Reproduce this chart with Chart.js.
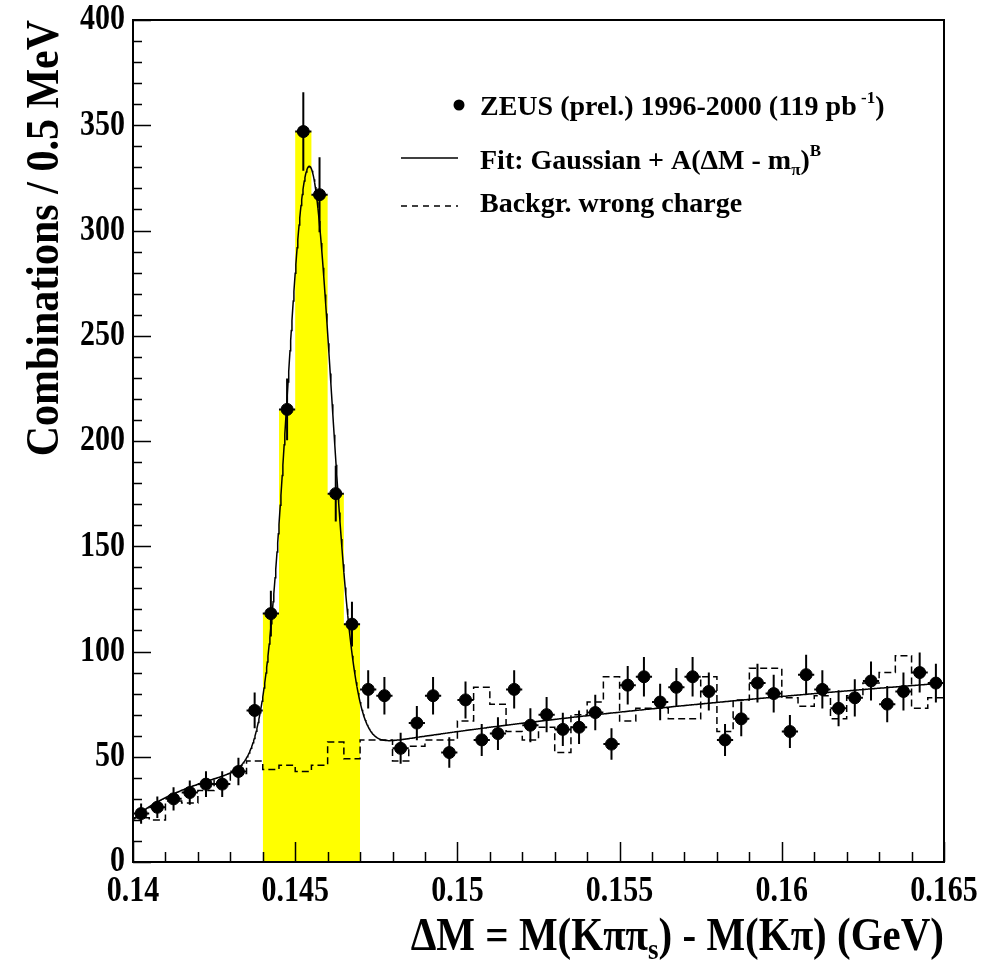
<!DOCTYPE html>
<html>
<head>
<meta charset="utf-8">
<script src="https://cdn.jsdelivr.net/npm/chart.js@4.4.1/dist/chart.umd.min.js"></script>
<style>
  html, body { margin: 0; padding: 0; background: #fff; }
</style>
</head>
<body>
<canvas id="dm" width="999" height="963"></canvas>
<script>
// Delta M histogram, 0.5 MeV bins from 0.140 to 0.165 GeV
var binLow = 0.140;
var binWidth = 0.0005;

// right-charge combinations per bin
var counts = [23, 26, 30, 33, 37, 37, 43, 72, 118, 215,
              347, 317, 175, 113, 82, 79, 54, 66, 79, 52,
              77, 58, 61, 82, 65, 70, 63, 64, 71, 56,
              84, 88, 76, 83, 88, 81, 58, 68, 85, 80,
              62, 89, 82, 73, 78, 86, 75, 81, 90, 85];

// wrong-charge background per bin
var wrongCharge = [21, 20, 29, 28, 34, 39, 42, 48, 44, 46,
                   43, 46, 57, 49, 58, 58, 48, 55, 58, 58,
                   67, 83, 75, 62, 58, 64, 52, 70, 76, 88,
                   67, 73, 73, 68, 68, 88, 62, 77, 92, 92,
                   78, 74, 79, 68, 79, 85, 90, 98, 73, 78];

// signal window (shaded bins)
var signalFirst = 8, signalLast = 13;

// fit: Gaussian + A(dM - m_pi)^B
var mPi = 0.13957;
var gaussAmp = 280, gaussMean = 0.14543, gaussSigma = 0.00069;
var bgA = 313, bgB = 0.355;

var xTickLabels = ['0.14', '0.145', '0.15', '0.155', '0.16', '0.165'];
var yTickLabels = ['0', '50', '100', '150', '200', '250', '300', '350', '400'];

var SERIF = '"Liberation Serif", "Times New Roman", serif';

function binCenter(i) { return binLow + (i + 0.5) * binWidth; }

var pointData = counts.map(function (n, i) { return { x: binCenter(i), y: n }; });

// step histograms: one point per left edge, plus the closing right edge
function stepPoints(vals, first) {
  var pts = vals.map(function (v, i) { return { x: binLow + (first + i) * binWidth, y: v }; });
  pts.push({ x: binLow + (first + vals.length) * binWidth, y: vals[vals.length - 1] });
  return pts;
}
var wrongData = stepPoints(wrongCharge, 0);
var signalData = stepPoints(counts.slice(signalFirst, signalLast + 1), signalFirst);

function fitFn(x) {
  var g = gaussAmp * Math.exp(-0.5 * Math.pow((x - gaussMean) / gaussSigma, 2));
  return g + bgA * Math.pow(x - mPi, bgB);
}
var fitData = [];
for (var k = 0; k <= 1250; k++) {
  var xv = 0.14 + k * 0.00002;
  fitData.push({ x: xv, y: fitFn(xv) });
}

// superscript / subscript text runs
function drawRuns(ctx, x, y, runs) {
  runs.forEach(function (r) {
    ctx.font = 'bold ' + r.size + 'px ' + SERIF;
    ctx.fillText(r.t, x, y + (r.dy || 0));
    x += ctx.measureText(r.t).width;
  });
}
function runsWidth(ctx, runs) {
  var w = 0;
  runs.forEach(function (r) {
    ctx.font = 'bold ' + r.size + 'px ' + SERIF;
    w += ctx.measureText(r.t).width;
  });
  return w;
}

// text drawn a little taller than wide, like the old PAW fonts
function tallText(ctx, s, x, y, sy) {
  ctx.save();
  ctx.translate(x, y);
  ctx.scale(1, sy);
  ctx.fillText(s, 0, 0);
  ctx.restore();
}

var errorBars = {
  id: 'errorBars',
  afterDatasetsDraw: function (chart) {
    var ctx = chart.ctx, xs = chart.scales.x, ys = chart.scales.y;
    ctx.save();
    ctx.strokeStyle = '#000';
    ctx.lineWidth = 2;
    counts.forEach(function (n, i) {
      var e = Math.sqrt(n), c = binCenter(i);
      var px = xs.getPixelForValue(c), py = ys.getPixelForValue(n);
      ctx.beginPath();
      ctx.moveTo(px, ys.getPixelForValue(n + e));
      ctx.lineTo(px, ys.getPixelForValue(n - e));
      ctx.moveTo(xs.getPixelForValue(c - binWidth / 2), py);
      ctx.lineTo(xs.getPixelForValue(c + binWidth / 2), py);
      ctx.stroke();
    });
    ctx.restore();
  }
};

var frameAndText = {
  id: 'frameAndText',
  afterDraw: function (chart) {
    var ctx = chart.ctx, ca = chart.chartArea, xs = chart.scales.x, ys = chart.scales.y;
    ctx.save();
    ctx.strokeStyle = '#000';
    ctx.fillStyle = '#000';

    // inward ticks
    ctx.lineWidth = 1.5;
    ctx.beginPath();
    for (var k = 0; k <= 25; k++) {
      var px = Math.round(xs.getPixelForValue(0.14 + k * 0.001)) + 0.5;
      ctx.moveTo(px, ca.bottom);
      ctx.lineTo(px, ca.bottom - (k % 5 === 0 ? 20 : 10));
    }
    for (var j = 0; j <= 40; j++) {
      var py = Math.round(ys.getPixelForValue(j * 10)) + 0.5;
      ctx.moveTo(ca.left, py);
      ctx.lineTo(ca.left + (j % 5 === 0 ? 18 : 9), py);
    }
    ctx.stroke();

    ctx.lineWidth = 2;
    ctx.strokeRect(ca.left, ca.top, ca.right - ca.left, ca.bottom - ca.top);

    // tick labels
    ctx.font = 'bold 30px ' + SERIF;
    ctx.textAlign = 'center';
    ctx.textBaseline = 'top';
    xTickLabels.forEach(function (s) {
      tallText(ctx, s, xs.getPixelForValue(parseFloat(s)), ca.bottom + 12, 1.2);
    });
    ctx.textAlign = 'right';
    ctx.textBaseline = 'middle';
    yTickLabels.forEach(function (s) {
      tallText(ctx, s, ca.left - 8, ys.getPixelForValue(parseFloat(s)), 1.2);
    });

    // axis titles
    ctx.textAlign = 'left';
    ctx.textBaseline = 'alphabetic';
    var xTitle = [
      { t: '\u0394M = M(K\u03c0\u03c0', size: 41 },
      { t: 's', size: 27, dy: 8 },
      { t: ') - M(K\u03c0) (GeV)', size: 41 }
    ];
    ctx.save();
    ctx.translate(ca.right - runsWidth(ctx, xTitle), 950);
    ctx.scale(1, 1.12);
    drawRuns(ctx, 0, 0, xTitle);
    ctx.restore();

    ctx.save();
    ctx.translate(58, ca.top);
    ctx.rotate(-Math.PI / 2);
    ctx.scale(1, 1.08);
    ctx.textAlign = 'right';
    ctx.font = 'bold 42px ' + SERIF;
    ctx.fillText('Combinations / 0.5 MeV', 0, 0);
    ctx.restore();

    // legend
    ctx.textAlign = 'left';
    ctx.beginPath();
    ctx.arc(459, 105, 5.5, 0, Math.PI * 2);
    ctx.fill();
    drawRuns(ctx, 480, 115, [
      { t: 'ZEUS (prel.) 1996-2000 (119 pb', size: 28 },
      { t: ' -1', size: 17, dy: -12 },
      { t: ')', size: 28 }
    ]);

    ctx.lineWidth = 1.5;
    ctx.beginPath();
    ctx.moveTo(401, 158);
    ctx.lineTo(458, 158);
    ctx.stroke();
    drawRuns(ctx, 480, 169, [
      { t: 'Fit: Gaussian + A(\u0394M - m', size: 28 },
      { t: '\u03c0', size: 17, dy: 6 },
      { t: ')', size: 28 },
      { t: 'B', size: 17, dy: -13 }
    ]);

    ctx.setLineDash([6, 5]);
    ctx.beginPath();
    ctx.moveTo(401, 206);
    ctx.lineTo(458, 206);
    ctx.stroke();
    ctx.setLineDash([]);
    drawRuns(ctx, 480, 212, [{ t: 'Backgr. wrong charge', size: 28 }]);

    ctx.restore();
  }
};

new Chart(document.getElementById('dm'), {
  type: 'scatter',
  data: {
    datasets: [
      {
        label: 'ZEUS (prel.) 1996-2000',
        data: pointData,
        showLine: false,
        pointRadius: 6,
        pointBackgroundColor: '#000',
        pointBorderColor: '#000',
        pointBorderWidth: 1
      },
      {
        label: 'Fit',
        data: fitData,
        showLine: true,
        pointRadius: 0,
        borderColor: '#000',
        borderWidth: 1.5,
        tension: 0
      },
      {
        label: 'Backgr. wrong charge',
        data: wrongData,
        showLine: true,
        stepped: true,
        pointRadius: 0,
        borderColor: '#000',
        borderWidth: 1.5,
        borderDash: [7, 4]
      },
      {
        label: 'signal',
        data: signalData,
        showLine: true,
        stepped: true,
        pointRadius: 0,
        borderWidth: 0,
        borderColor: 'rgba(0,0,0,0)',
        backgroundColor: '#ffff00',
        fill: 'origin'
      }
    ]
  },
  options: {
    responsive: false,
    animation: false,
    devicePixelRatio: 1,
    layout: { padding: { left: 133, right: 55, top: 20, bottom: 101 } },
    scales: {
      x: { type: 'linear', min: 0.14, max: 0.165, display: false },
      y: { type: 'linear', min: 0, max: 400, display: false }
    },
    plugins: {
      legend: { display: false },
      tooltip: { enabled: false }
    }
  },
  plugins: [errorBars, frameAndText]
});
</script>
</body>
</html>
